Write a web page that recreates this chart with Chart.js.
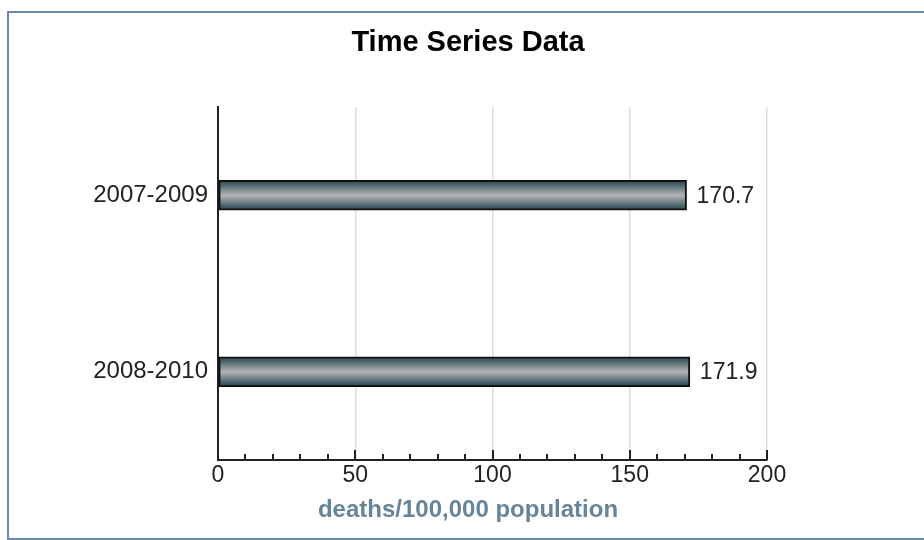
<!DOCTYPE html>
<html>
<head>
<meta charset="utf-8">
<script src="https://cdn.jsdelivr.net/npm/chart.js@4.4.1/dist/chart.umd.min.js"></script>
<style>
  html, body { margin: 0; padding: 0; background: #fff; }
  #wrap { position: relative; width: 924px; height: 540px; overflow: hidden; }
  #frame { position: absolute; left: 7px; top: 11px; width: 940px; height: 525px;
           border-left: 2px solid #6a8bad; border-top: 2px solid #6a8bad; border-bottom: 2px solid #6a8bad; }
  canvas { position: absolute; left: 0; top: 0; }
</style>
</head>
<body>
<div id="wrap">
  <div id="frame"></div>
  <canvas id="c" width="924" height="540"></canvas>
</div>
<script>
const titleText = 'Time Series Data';
const axisTitle = 'deaths/100,000 population';
const categories = ['2007-2009', '2008-2010'];
const values = [170.7, 171.9];
const xMin = 0, xMax = 200, xStep = 50, minorStep = 10;

const FONT = "'Liberation Sans', Arial, sans-serif";
const BAR_THICKNESS = 30;

const textPlugin = {
  id: 'customTexts',
  afterDraw(chart) {
    const ctx = chart.ctx;
    const cx = chart.width / 2 + 6;
    ctx.save();
    ctx.textAlign = 'center';
    ctx.textBaseline = 'middle';
    ctx.font = 'bold 29px ' + FONT;
    ctx.fillStyle = '#000';
    ctx.fillText(titleText, cx, 43);
    ctx.font = 'bold 24px ' + FONT;
    ctx.fillStyle = '#66849a';
    ctx.fillText(axisTitle, cx, 510);
    ctx.restore();
  }
};

function makeGradient(ctx, yc) {
  const top = yc - BAR_THICKNESS / 2, bot = yc + BAR_THICKNESS / 2;
  const g = ctx.createLinearGradient(0, top, 0, bot);
  g.addColorStop(0, '#2c464f');
  g.addColorStop(0.15, '#4a646c');
  g.addColorStop(0.5, '#b4b6b6');
  g.addColorStop(0.85, '#4a646c');
  g.addColorStop(1, '#2c464f');
  return g;
}

// scriptable so each bar gets its own options object
function barFill(context) {
  const ys = context.chart.scales && context.chart.scales.y;
  if (!ys || context.dataIndex === undefined) return '#6a7f86';
  const yc = ys.getPixelForValue(context.dataIndex);
  if (!isFinite(yc)) return '#6a7f86';
  return makeGradient(context.chart.ctx, yc);
}

const gradientPlugin = {
  id: 'barGradient',
  beforeDatasetsDraw(chart) {
    chart.getDatasetMeta(0).data.forEach(el => {
      if (isFinite(el.y)) el.options.backgroundColor = makeGradient(chart.ctx, el.y);
    });
  }
};

const valueLabelPlugin = {
  id: 'valueLabels',
  afterDatasetsDraw(chart) {
    const ctx = chart.ctx;
    ctx.save();
    ctx.font = '23px ' + FONT;
    ctx.fillStyle = '#222';
    ctx.textAlign = 'left';
    ctx.textBaseline = 'middle';
    chart.getDatasetMeta(0).data.forEach((el, i) => {
      ctx.fillText(values[i].toFixed(1), el.x + 10, el.y + 1);
    });
    ctx.restore();
  }
};

const innerTicksPlugin = {
  id: 'innerTicks',
  afterDraw(chart) {
    const s = chart.scales.x;
    const ctx = chart.ctx;
    const yb = chart.chartArea.bottom;
    ctx.save();
    ctx.strokeStyle = '#222';
    ctx.lineWidth = 2;
    for (let v = xMin + minorStep; v <= xMax; v += minorStep) {
      const x = Math.round(s.getPixelForValue(v));
      const len = (v % xStep === 0) ? 10 : 6;
      ctx.beginPath();
      ctx.moveTo(x, yb);
      ctx.lineTo(x, yb - len);
      ctx.stroke();
    }
    ctx.restore();
  }
};

new Chart(document.getElementById('c'), {
  type: 'bar',
  data: {
    labels: categories,
    datasets: [{
      data: values,
      backgroundColor: barFill,
      borderColor: '#111',
      borderWidth: 2,
      borderSkipped: false,
      barThickness: BAR_THICKNESS
    }]
  },
  options: {
    indexAxis: 'y',
    responsive: false,
    animation: false,
    layout: { padding: { top: 107, right: 157, bottom: 0, left: 0 } },
    plugins: { legend: { display: false }, title: { display: false }, tooltip: { enabled: false } },
    scales: {
      x: {
        min: xMin, max: xMax,
        ticks: { stepSize: xStep, font: { size: 23, family: FONT }, color: '#222', padding: 2 },
        grid: { color: '#dddddd', lineWidth: 1.5, drawTicks: false },
        border: { display: true, color: '#222', width: 2 },
        afterFit(scale) { scale.height = 80; }
      },
      y: {
        ticks: { font: { size: 24, family: FONT }, color: '#222', padding: 10 },
        grid: { display: false, drawTicks: false },
        border: { display: true, color: '#222', width: 2 },
        afterFit(scale) { scale.width = 218; }
      }
    }
  },
  plugins: [gradientPlugin, textPlugin, valueLabelPlugin, innerTicksPlugin]
});
</script>
</body>
</html>
